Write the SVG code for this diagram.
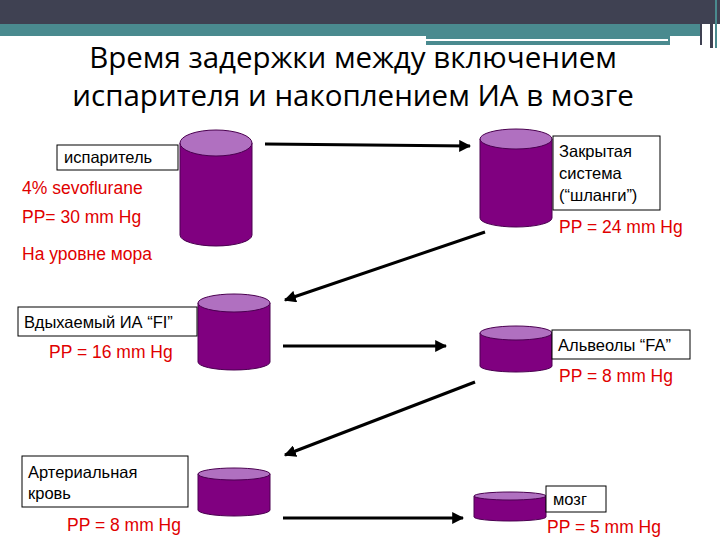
<svg xmlns="http://www.w3.org/2000/svg" width="720" height="540" viewBox="0 0 720 540">
<style>
.body{fill:#800080;stroke:#4a0050;stroke-width:1}
.top{fill:#b070c0;stroke:#4a0050;stroke-width:1}
.box{fill:#fff;stroke:#000;stroke-width:1}
.t{font-family:"Liberation Sans",Arial,sans-serif;font-size:16.5px;fill:#000}
.r{font-family:"Liberation Sans",Arial,sans-serif;font-size:17.5px;fill:#e00000}
.c{stroke:#000;stroke-width:3;fill:none;marker-end:url(#ah)}
</style>
<defs><marker id="ah" viewBox="0 0 10 10" refX="9" refY="5" markerWidth="4" markerHeight="4" orient="auto"><path d="M0,0L10,5L0,10z" fill="#000"/></marker></defs>
<rect width="720" height="540" fill="#fff"/>
<rect x="0" y="0" width="720" height="24" fill="#3f4152"/>
<rect x="0" y="24" width="700" height="12" fill="#4a8a8f"/>
<rect x="426" y="33" width="244" height="12" fill="#4a8a8f"/>
<line x1="426" y1="40" x2="668" y2="40" stroke="#fff" stroke-width="2"/>
<rect x="700" y="0" width="2" height="45" fill="#3f4152"/>
<rect x="710" y="0" width="3" height="48" fill="#3f4152"/>
<rect x="715" y="0" width="2" height="48" fill="#4a8a8f"/>
<text x="353" y="68" text-anchor="middle" font-family="Open Sans,Liberation Sans,sans-serif" font-size="29.5" fill="#000">Время задержки между включением</text>
<text x="353" y="106" text-anchor="middle" font-family="Open Sans,Liberation Sans,sans-serif" font-size="29.5" fill="#000">испарителя и накоплением ИА в мозге</text>
<g id="connectors">
<line class="c" x1="265" y1="144" x2="470" y2="146"/>
<line class="c" x1="485" y1="232" x2="285" y2="300"/>
<line class="c" x1="283" y1="346" x2="446" y2="346"/>
<line class="c" x1="475" y1="382" x2="285" y2="455"/>
<line class="c" x1="283" y1="518" x2="463" y2="518"/>
</g>
<g id="n1">
<path class="body" d="M180,143V235A36,11 0 0 0 252,235V143z"/><ellipse class="top" cx="216" cy="143" rx="36" ry="13"/>
<rect class="box" x="57" y="145" width="121" height="25"/>
<text class="t" x="64" y="163">испаритель</text>
<text class="r" x="22" y="194">4% sevoflurane</text>
<text class="r" x="22" y="223">PP= 30 mm Hg</text>
<text class="r" x="22" y="260">На уровне мора</text>
</g>
<g id="n2">
<path class="body" d="M480,139V218A36,9 0 0 0 552,218V139z"/><ellipse class="top" cx="516" cy="139" rx="36" ry="10"/>
<rect class="box" x="553" y="136" width="107" height="74"/>
<text class="t" x="559" y="157">Закрытая</text>
<text class="t" x="559" y="179">система</text>
<text class="t" x="559" y="201">(“шланги”)</text>
<text class="r" x="559" y="233">PP = 24 mm Hg</text>
</g>
<g id="n3">
<path class="body" d="M198,303V362A36,8 0 0 0 270,362V303z"/><ellipse class="top" cx="234" cy="303" rx="36" ry="9"/>
<rect class="box" x="18" y="307" width="179" height="29"/>
<text class="t" x="24" y="328">Вдыхаемый ИА “FI”</text>
<text class="r" x="49" y="358">PP = 16 mm Hg</text>
</g>
<g id="n4">
<path class="body" d="M480,333V366A36,6 0 0 0 552,366V333z"/><ellipse class="top" cx="516" cy="333" rx="36" ry="7"/>
<rect class="box" x="552" y="330" width="138" height="29"/>
<text class="t" x="558" y="351">Альвеолы “FA”</text>
<text class="r" x="559" y="382">PP = 8 mm Hg</text>
</g>
<g id="n5">
<path class="body" d="M198,474V510A36,6 0 0 0 270,510V474z"/><ellipse class="top" cx="234" cy="474" rx="36" ry="6"/>
<rect class="box" x="22" y="456" width="166" height="51"/>
<text class="t" x="28" y="478">Артериальная</text>
<text class="t" x="28" y="499">кровь</text>
<text class="r" x="67" y="531">PP = 8 mm Hg</text>
</g>
<g id="n6">
<path class="body" d="M474,496V517A36,4 0 0 0 546,517V496z"/><ellipse class="top" cx="510" cy="496" rx="36" ry="4"/>
<rect class="box" x="546" y="486" width="60" height="26"/>
<text class="t" x="553" y="505">мозг</text>
<text class="r" x="547" y="533">PP = 5 mm Hg</text>
</g>
</svg>
